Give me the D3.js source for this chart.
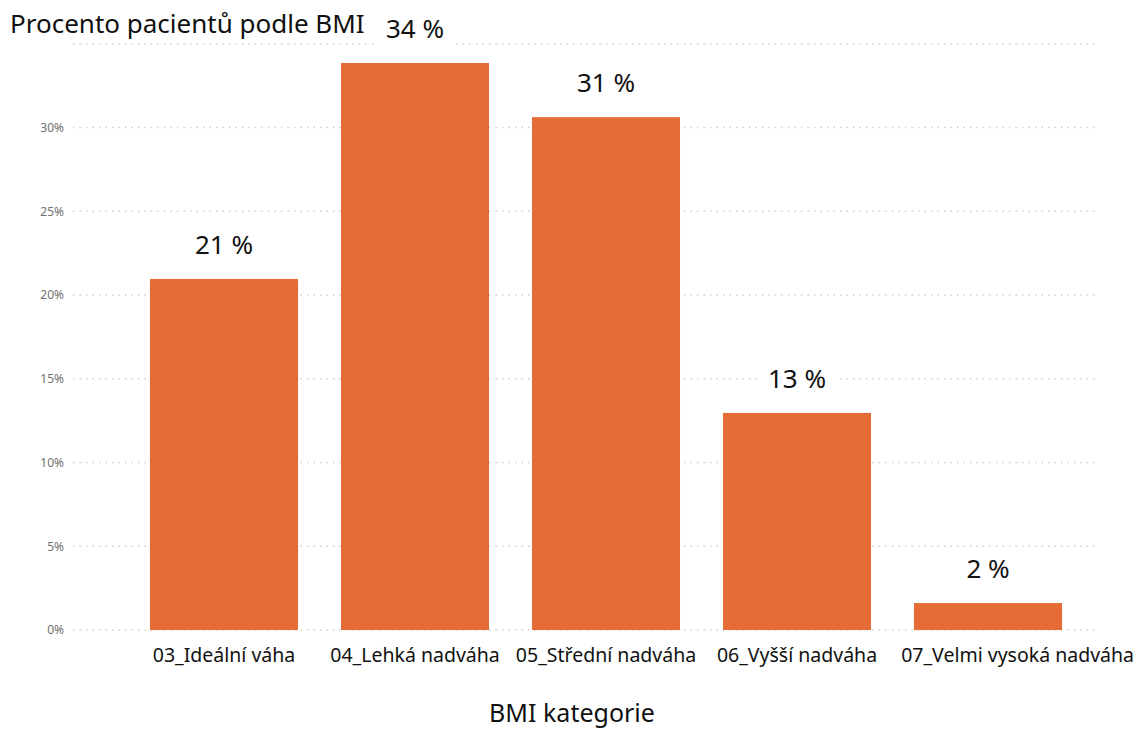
<!DOCTYPE html>
<html><head><meta charset="utf-8">
<script src="https://cdn.jsdelivr.net/npm/d3@7"></script>
<style>body{margin:0;background:#fff}svg{display:block}</style>
</head><body>
<svg id="c" width="1136" height="731"></svg>
<script>
const categories = ["03_Ideální váha","04_Lehká nadváha","05_Střední nadváha","06_Vyšší nadváha","07_Velmi vysoká nadváha"];
const values = [20.96, 33.85, 30.62, 12.96, 1.61];
const yTicks = [0,5,10,15,20,25,30,35];
const yTickLabels = ["0%","5%","10%","15%","20%","25%","30%",""];
const title = "Procento pacientů podle BMI";
const xTitle = "BMI kategorie";

const font = "'Noto Sans', 'Open Sans', sans-serif";
const svg = d3.select("#c");
const x = d3.scaleBand().domain(categories).range([128.5,1083.5]).paddingInner(0.225).paddingOuter(0.1125);
const y = d3.scaleLinear().domain([0,35]).range([630,43.75]);

// gridlines
const grid = svg.append("g");
grid.selectAll("line").data(yTicks).join("line")
  .attr("x1",73).attr("x2",1100)
  .attr("y1",d=>y(d)).attr("y2",d=>y(d))
  .attr("stroke","#c8c8c8").attr("stroke-width",1.3)
  .attr("stroke-dasharray","1.3 5.2");

// y axis labels
const yAxis = d3.axisLeft(y).tickValues(yTicks).tickSize(0).tickPadding(0)
  .tickFormat((d,i)=>yTickLabels[i]);
const ya = svg.append("g").attr("transform","translate(64,0)").call(yAxis);
ya.select(".domain").remove();
ya.selectAll("text").attr("font-family",font).attr("font-size",12).attr("fill","#707070");

// bars
svg.append("g").selectAll("rect").data(values).join("rect")
  .attr("x",(d,i)=>x(categories[i])).attr("width",x.bandwidth())
  .attr("y",d=>y(d)).attr("height",d=>y(0)-y(d))
  .attr("fill","#E66C37");

// data labels with white background
const lg = svg.append("g").selectAll("g").data(values).join("g")
  .attr("transform",(d,i)=>`translate(${x(categories[i])+x.bandwidth()/2},${y(d)-25})`);
lg.append("rect").attr("x",-38).attr("y",-28).attr("width",76).attr("height",36).attr("fill","#fff");
lg.append("text").attr("text-anchor","middle").attr("font-family",font).attr("font-size",26)
  .attr("fill","#111").text(d=>Math.round(d)+" %");

// x axis labels
const xAxis = d3.axisBottom(x).tickSize(0).tickPadding(0);
const xa = svg.append("g").attr("transform","translate(0,647)").call(xAxis);
xa.select(".domain").remove();
const xt = xa.selectAll("text").attr("font-family",font).attr("font-size",19.5).attr("fill","#111").attr("dy","0.75em");
// push labels apart (keep a gap between neighbours), last wide label shifted right like the original
let prevEnd = -Infinity;
xt.each(function(d,i){
  const b = this.getBBox();
  const cx = x(d) + x.bandwidth()/2;
  let start = cx - b.width/2;
  const gap = (i === categories.length-1) ? 34 : 10;
  if (start < prevEnd + gap) start = prevEnd + gap;
  start = Math.min(start, 1134 - b.width);
  d3.select(this).attr("dx", start - (cx - b.width/2));
  prevEnd = start + b.width;
});

// titles
svg.append("text").attr("x",10).attr("y",33).attr("font-family",font).attr("font-size",26).attr("fill","#111").text(title);
svg.append("text").attr("x",572).attr("y",722).attr("text-anchor","middle").attr("font-family",font).attr("font-size",25).attr("fill","#111").text(xTitle);
</script>
</body></html>
